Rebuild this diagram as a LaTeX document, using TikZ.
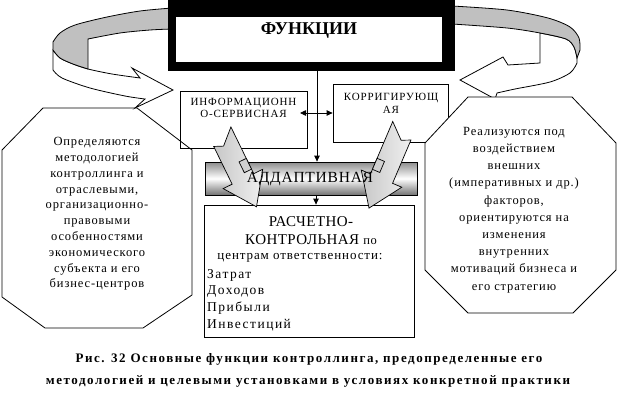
\documentclass[tikz,border=0pt]{standalone}
\usepackage{fontspec}
\setmainfont{Liberation Serif}
\usetikzlibrary{arrows.meta,calc}
\definecolor{ribgray}{HTML}{C0C0C0}
\tikzset{
  ln/.style={line width=0.8pt},
  box/.style={draw=black, fill=white, line width=0.8pt, inner sep=0pt},
  arr/.style={-{Triangle[length=6pt,width=5.5pt]}, line width=0.8pt},
  dbl/.style={{Triangle[length=6pt,width=5.5pt]}-{Triangle[length=6pt,width=5.5pt]}, line width=0.8pt},
  octtxt/.style={align=center, inner sep=0pt, font=\fontsize{12.5}{15.8}\selectfont\addfontfeatures{LetterSpace=7}},
  boxtxt/.style={align=center, inner sep=0pt, font=\fontsize{11}{12.5}\selectfont\addfontfeatures{LetterSpace=8}},
  blockarr/.style={draw=black, line width=0.7pt, left color=black!22, right color=black!6},
  captxt/.style={inner sep=0pt, font=\fontsize{13}{15}\selectfont\bfseries\addfontfeatures{LetterSpace=12}}
}
\begin{document}
\begin{tikzpicture}[x=1pt,y=-1pt]
\useasboundingbox (0,0) rectangle (617,415);

% ---- curved ribbon arrows ----
\filldraw[ln, fill=white] plot[smooth] coordinates {(53,50) (60,58) (73,64) (88,69) (112,74) (140,78)}
  -- (132,68) -- (173,90) -- (135,108) -- (145,99)
  -- plot[smooth] coordinates {(145,99) (125,96) (90,88) (62,78) (53,70)} -- cycle;
\filldraw[ln, fill=ribgray] plot[smooth] coordinates {(172,8) (140,11) (107,17) (75,25) (60,33) (53,42)}
  -- (53,50) -- plot[smooth] coordinates {(53,50) (60,58) (73,64) (88,69)}
  -- (88,39) -- plot[smooth] coordinates {(88,39) (120,33) (150,30) (172,29)} -- cycle;

\filldraw[ln, fill=white] (540,33) -- (540,63) -- (508,65) -- (503,57) -- (460,80) -- (495,99) -- (497,93)
  -- plot[smooth] coordinates {(497,93) (515,89) (550,82) (570,73) (577,63)}
  -- (577,58) -- plot[smooth] coordinates {(577,58) (574,47) (566,39) (540,33)} -- cycle;
\filldraw[ln, fill=ribgray] plot[smooth] coordinates {(452,6) (507,10) (548,18) (570,27) (579,38) (580,50)}
  -- (577,58) -- plot[smooth] coordinates {(577,58) (574,47) (566,39) (540,33) (507,28) (452,24)} -- cycle;

% ---- title box ----
\node[fill=black, inner sep=0pt, minimum width=287pt, minimum height=71pt] (func) at (311.5,35.5) {};
\fill[white] (176,17) rectangle (442,62);
\node[inner sep=0pt, font=\fontsize{18}{20}\selectfont\bfseries] (functxt) at (309,31) {ФУНКЦИИ};

% ---- upper boxes ----
\node[box, minimum width=127pt, minimum height=57pt] (info) at (243.5,119.5) {};
\node[box, minimum width=115pt, minimum height=58pt] (korr) at (390.5,113) {};

% ---- octagons ----
\draw[ln] (43,108) -- (137,108) -- (192,150) -- (192,295) -- (143,328) -- (45,328) -- (2,297) -- (2,150) -- cycle;
\filldraw[ln, fill=white] (468,97) -- (572,97) -- (616,143) -- (616,270) -- (573,313) -- (468,313) -- (425,270) -- (425,143) -- cycle;

\node[boxtxt] (infotxt) at (243.5,108) {ИНФОРМАЦИОНН\\О-СЕРВИСНАЯ};
\node[boxtxt] (korrtxt) at (391,103.5) {КОРРИГИРУЮЩ\\АЯ};

\node[octtxt] (ltxt) at (97,214) {Определяются\\методологией\\контроллинга и\\отраслевыми,\\организационно-\\правовыми\\особенностями\\экономического\\субъекта и его\\бизнес-центров};
\node[octtxt, font=\fontsize{12.5}{17.2}\selectfont\addfontfeatures{LetterSpace=7}] (rtxt) at (514,210) {Реализуются под\\воздействием\\внешних\\(императивных и др.)\\факторов,\\ориентируются на\\изменения\\внутренних\\мотиваций бизнеса и\\его стратегию};

% ---- adaptive bar and lower box ----
\node[draw=black, ln, inner sep=0pt, minimum width=212pt, minimum height=33pt,
      top color=black!45, bottom color=black!55, middle color=white] (adapt) at (311,178.5) {};
\node[box, minimum width=210pt, minimum height=132pt] (calc) at (309,271) {};

% ---- connectors ----
\coordinate (vx) at (317,0);
\coordinate (vx2) at (316,0);
\coordinate (dl) at (300,113);
\draw[arr] (func.south -| vx) -- (adapt.north -| vx);
\draw[dbl] (dl) -- (korr.west |- dl);
\draw[arr] (adapt.south -| vx2) -- (calc.north -| vx2);

% ---- block arrows (3D, twisted) ----
\begin{scope}[shift={(221,134)}, rotate=-64]
  \draw[blockarr] (-2,-12) -- (50,-12) -- (50,-22) -- (81,0) -- (50,22) -- (50,12) -- (8,12) -- (12,3) -- cycle;
  \filldraw[line width=0.7pt, fill=black!18] (33,-12) -- (45,-12) -- (45,-4) -- (33,-4) -- cycle;
\end{scope}
\begin{scope}[shift={(403,128)}, rotate=-113]
  \draw[blockarr] (-2,12) -- (55,12) -- (55,22) -- (87,0) -- (55,-22) -- (55,-12) -- (8,-12) -- (12,-3) -- cycle;
  \filldraw[line width=0.7pt, fill=black!18] (38,12) -- (50,12) -- (50,4) -- (38,4) -- cycle;
\end{scope}

\node[inner sep=0pt, font=\fontsize{15.5}{18}\selectfont\addfontfeatures{LetterSpace=5}] (adtxt) at (310,179) {АДДАПТИВНАЯ};

% ---- lower box text ----
\node[inner sep=0pt, font=\fontsize{15}{18}\selectfont\addfontfeatures{LetterSpace=3}] (c1) at (311,222) {РАСЧЕТНО-};
\node[inner sep=0pt, font=\fontsize{15}{18}\selectfont\addfontfeatures{LetterSpace=3}] (c2) at (311,240) {КОНТРОЛЬНАЯ {\fontsize{12.5}{15}\selectfont по}};
\node[inner sep=0pt, font=\fontsize{13}{15}\selectfont\addfontfeatures{LetterSpace=7}] (c3) at (300,258) {центрам ответственности:};
\node[anchor=west, align=left, inner sep=0pt, font=\fontsize{13.5}{16.7}\selectfont\addfontfeatures{LetterSpace=11}] (c4) at (207,300) {Затрат\\Доходов\\Прибыли\\Инвестиций};

% ---- caption ----
\node[captxt] (cap1) at (309,359) {Рис. 32 Основные функции контроллинга, предопределенные его};
\node[captxt] (cap2) at (308,381) {методологией и целевыми установками в условиях конкретной практики};
\end{tikzpicture}
\end{document}
